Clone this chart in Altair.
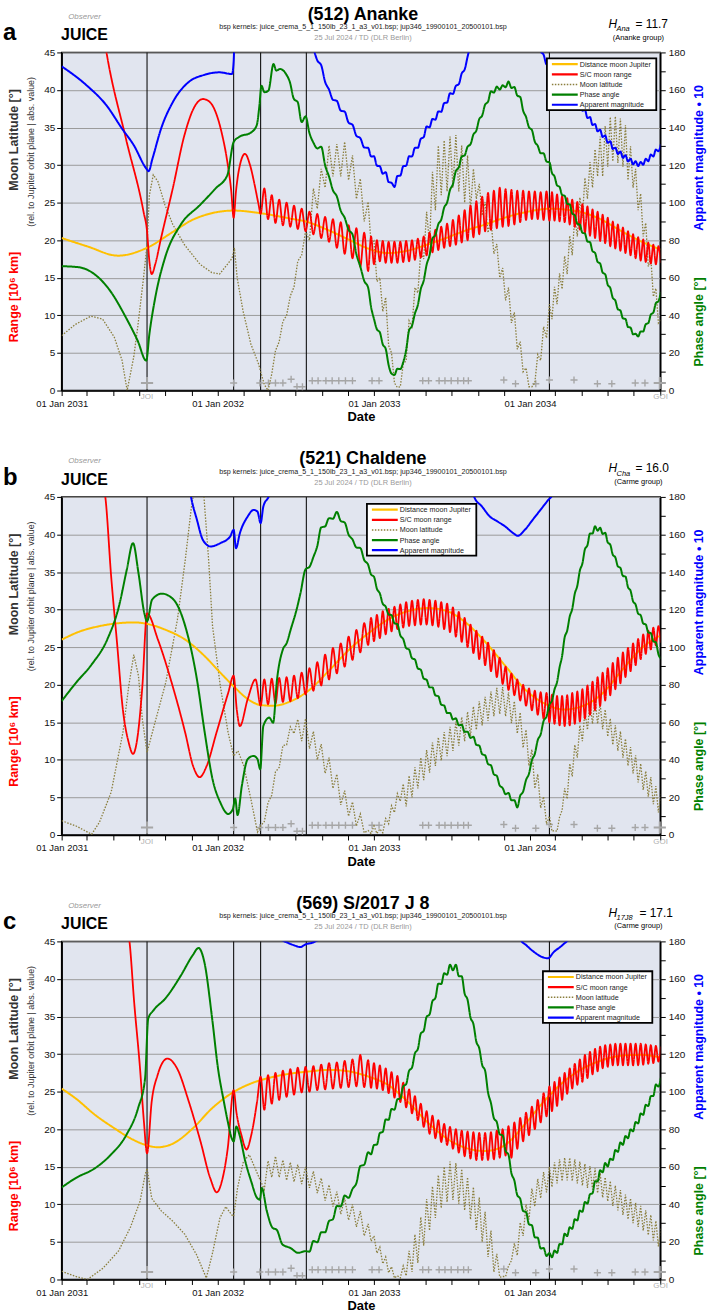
import altair as alt
import pandas as pd

SERIES = ["Distance moon Jupiter", "S/C moon range", "Moon latitude", "Phase angle", "Apparent magnitude"]
COLORS = ["#FFC000", "#FF0000", "#8A7E3C", "#008000", "#0000FF"]
DASHES = [[1, 0], [1, 0], [1.5, 1.5], [1, 0], [1, 0]]

EVENTS = [2031.5475, 2032.1025, 2032.275, 2032.5675, 2034.125]
JOI = 2031.5475
GOI = 2034.8375

FLYBYS = [[2032.1025, 1.0], [2032.27, 1.0], [2032.325, 1.0], [2032.37, 1.0], [2032.4175, 1.0],
          [2032.47, 1.5], [2032.5075, 0.5], [2032.5425, 0.5], [2032.605, 1.3], [2032.6425, 1.3],
          [2032.6925, 1.3], [2032.7325, 1.3], [2032.775, 1.3], [2032.8175, 1.3], [2032.8625, 1.3],
          [2032.9875, 1.3], [2033.0325, 1.3], [2033.3125, 1.3], [2033.35, 1.3], [2033.4175, 1.3],
          [2033.455, 1.3], [2033.495, 1.3], [2033.5375, 1.3], [2033.575, 1.3], [2033.605, 1.3],
          [2033.8325, 1.4], [2033.9075, 0.9], [2034.0375, 0.9], [2034.125, 1.4], [2034.2825, 1.4],
          [2034.4325, 0.9], [2034.525, 0.9], [2034.675, 1.0], [2034.7375, 1.0]]
BIG_FLYBYS = [[2031.5475, 1.0], [2034.8325, 1.0]]

# orbit epochs of the spacecraft (shared by all panels)
EPOCHS = [2032.275, 2032.3225, 2032.37, 2032.4175, 2032.465, 2032.5125, 2032.5625,
          2032.6125, 2032.6625, 2032.7125, 2032.7625, 2032.8125, 2032.8625, 2032.9125, 2032.9625,
          2033.0, 2033.0375, 2033.075, 2033.1125, 2033.15, 2033.1875, 2033.225, 2033.2625, 2033.3, 2033.3375,
          2033.375, 2033.4125, 2033.45, 2033.4875, 2033.525, 2033.5625, 2033.6, 2033.6375, 2033.675, 2033.7125,
          2033.75, 2033.7875, 2033.825, 2033.8625, 2033.9, 2033.9375, 2033.975, 2034.0125, 2034.05, 2034.0875, 2034.125,
          2034.1575, 2034.19, 2034.2225, 2034.255, 2034.2875, 2034.32, 2034.3525, 2034.385, 2034.4175, 2034.45,
          2034.4825, 2034.515, 2034.5475, 2034.58, 2034.6125, 2034.645, 2034.6775, 2034.71, 2034.7425, 2034.775,
          2034.8075, 2034.84]

# ---------------- panel a : (512) Ananke ----------------
A_YEL = [[2031.0, 20.3], [2031.1625, 19.2], [2031.3625, 17.95], [2031.5475, 19.0], [2031.7125, 21.1],
         [2031.8375, 22.7], [2031.9625, 23.6], [2032.1025, 23.95], [2032.275, 23.6], [2032.4625, 22.9],
         [2032.5625, 22.5], [2032.7125, 21.3], [2032.8625, 19.85], [2032.9625, 18.9], [2033.0875, 18.3],
         [2033.2125, 18.6], [2033.3375, 19.4], [2033.4625, 20.3], [2033.5875, 21.3], [2033.7125, 22.1],
         [2033.8375, 23.0], [2033.9625, 23.7], [2034.1375, 24.2], [2034.2625, 24.0], [2034.3375, 23.7],
         [2034.4625, 22.7], [2034.5875, 21.2], [2034.7125, 19.85], [2034.8375, 18.75]]
A_RED_PRE = [[2031.2575, 48.9], [2031.2875, 45.0], [2031.4125, 33.5], [2031.525, 23.8], [2031.5475, 21.2],
             [2031.5625, 17.2], [2031.5775, 15.5], [2031.6, 16.8], [2031.6375, 20.3], [2031.7125, 26.9],
             [2031.7875, 34.0], [2031.85, 37.7], [2031.9075, 38.8], [2031.95, 38.4], [2031.9875, 37.05],
             [2032.025, 34.4], [2032.0625, 30.4], [2032.0875, 26.5], [2032.1025, 23.0], [2032.1175, 26.5],
             [2032.1425, 30.0], [2032.175, 31.5], [2032.2075, 30.0], [2032.2375, 27.3], [2032.2625, 24.7]]
A_RED_EP = [23.5, 22.8, 22.3, 22.0, 21.8, 21.5, 21.2,
            20.8, 20.3, 19.8, 19.0, 18.2, 17.6, 16.5, 15.9,
            16.8, 17.2, 17.0, 17.0, 17.0, 17.1, 17.2, 17.4, 17.7, 18.0,
            18.4, 18.7, 19.0, 19.2, 19.4, 19.7, 20.0, 20.4, 20.8, 21.2, 21.4, 21.6, 21.8, 21.9, 22.1,
            22.4, 22.7, 22.8, 22.8, 22.7, 22.6,
            22.6, 22.5, 22.4, 22.1, 21.8, 21.4, 21.0, 20.6, 20.3, 19.9, 19.6, 19.2, 18.9, 18.6, 18.3,
            18.0, 17.6, 17.3, 17.1, 16.9, 16.8, 17.0]
A_RED_MID = [26.9, 26.0, 25.4, 25.0, 24.6, 24.2,
             23.8, 23.5, 23.1, 22.8, 22.4, 22.0, 21.6, 21.0,
             20.5, 20.0, 19.9, 19.8, 19.8, 19.8, 19.9, 20.0, 20.2, 20.5,
             21.0, 21.4, 21.8, 22.2, 22.7, 23.3, 24.0, 24.6, 25.2, 25.8, 26.3, 26.6, 27.0, 26.8, 26.7,
             26.6, 26.6, 26.5, 26.5, 26.4, 26.5,
             26.4, 26.1, 25.9, 25.6, 25.4, 25.1, 24.8, 24.5, 24.1, 23.8, 23.4, 23.0, 22.5, 22.1, 21.7,
             21.2, 20.8, 20.4, 20.1, 19.7, 19.4, 19.2]
A_GRN_PRE = [[2031.0, 66.2], [2031.1125, 65.6], [2031.2125, 61.8], [2031.3125, 52.9], [2031.4125, 38.8],
             [2031.4875, 26.5], [2031.5425, 15.9], [2031.5625, 30.0], [2031.6, 49.4], [2031.6625, 70.6],
             [2031.7625, 88.2], [2031.8875, 98.8], [2031.9875, 107.6], [2032.0625, 114.7], [2032.1025, 132.3],
             [2032.1375, 135.0], [2032.2125, 137.3], [2032.25, 141.2], [2032.2675, 151.8], [2032.28, 162.3],
             [2032.3, 158.8], [2032.325, 159.7], [2032.3575, 173.8], [2032.375, 170.3], [2032.4, 171.2],
             [2032.4375, 168.5], [2032.4625, 164.1], [2032.4875, 155.3], [2032.5125, 153.5], [2032.5375, 142.9]]
A_GRN_EP = [146.0, 132.0, 129.8, 113.9, 103.3, 92.0, 83.1, 66.0, 54.8, 38.1,
            31.0, 22.2, 9.0, 11.6, 15.1, 32.0, 41.0, 54.0, 67.0, 81.0,
            88.6, 97.4, 106.8, 116.9, 124.6, 129.8, 136.3, 144.5, 152.2, 159.3,
            161.8, 162.5, 164.5, 161.6, 156.3, 145.7, 138.7, 130.3, 126.3, 121.5,
            114.0, 108.4, 103.7, 99.1, 93.3, 88.3, 83.6, 79.0, 73.3, 67.6,
            61.9, 54.6, 47.9, 42.6, 38.1, 33.5, 30.2, 31.4, 35.3, 40.4,
            46.5, 52.5]
A_GRN_MID = [137.0, 128.9, 119.9, 106.6, 95.7, 85.6, 72.6, 58.4, 44.5, 32.6,
             24.6, 13.6, 8.3, 11.4, 21.6, 34.5, 45.5, 58.5, 72.0, 82.8,
             91.0, 100.1, 109.9, 118.8, 125.2, 131.1, 138.4, 146.4, 153.8, 158.6,
             160.2, 161.5, 161.1, 157.0, 149.0, 140.2, 132.5, 126.3, 121.9, 115.8,
             109.2, 104.1, 99.4, 94.2, 88.8, 84.0, 79.3, 74.2, 68.5, 62.8,
             56.3, 49.3, 43.3, 38.4, 33.8, 29.9, 28.8, 31.4, 35.9, 41.5,
             47.5]
A_BLU_PRE = [[2031.0, 172.6], [2031.1625, 162.3], [2031.2875, 151.8], [2031.3875, 139.4], [2031.4625, 130.6],
             [2031.5425, 118.2], [2031.5575, 116.8], [2031.5825, 123.5], [2031.6375, 139.4], [2031.7125, 153.5],
             [2031.8125, 164.1], [2031.9125, 168.0], [2032.0125, 169.4], [2032.0925, 168.5], [2032.1025, 175.0],
             [2032.1125, 200.0], [2032.3625, 240.0], [2032.6, 190.0]]
A_BLU_EP = [183.2, 173.2, 160.2, 154.2, 148.5, 141.5, 134.4, 129.2, 124.7, 119.4,
            116.2, 110.6, 114.2, 119.4, 124.7, 129.2, 134.0, 140.6, 144.6, 148.6,
            153.0, 158.3, 162.2, 168.8, 177.7, 196.2, 221.2, 236.2, 241.2, 241.2,
            241.2, 236.2, 226.2, 216.2, 206.2, 196.2, 187.2, 178.8, 173.2, 169.9,
            166.9, 163.7, 160.7, 157.8, 153.3, 149.4, 145.6, 141.9, 138.9, 135.8,
            132.7, 129.3, 127.2, 125.3, 123.4, 122.1, 121.7, 123.4, 125.6, 128.3,
            131.2]
A_BLU_MID = [175.8, 164.3, 154.8, 149.0, 142.6, 135.6, 129.4, 124.6, 119.7, 115.4,
             111.0, 108.4, 114.4, 119.7, 124.6, 129.2, 134.9, 140.2, 144.2, 148.4,
             153.3, 157.9, 163.1, 170.9, 184.6, 207.0, 227.0, 237.0, 240.0, 240.0,
             237.0, 230.0, 220.0, 210.0, 200.0, 190.0, 180.6, 173.6, 169.2, 166.0,
             162.9, 159.8, 156.9, 153.2, 149.0, 145.1, 141.4, 138.0, 135.0, 131.9,
             128.6, 125.9, 123.9, 122.0, 120.4, 119.5, 120.2, 122.1, 124.6, 127.4]
A_LAT_PRE = [[2031.0, 7.3], [2031.0875, 8.8], [2031.1875, 9.9], [2031.2625, 9.5], [2031.3375, 7.1],
             [2031.3875, 4.0], [2031.42, 0.0], [2031.4625, 4.5], [2031.4875, 8.4], [2031.525, 15.0],
             [2031.5475, 19.4], [2031.5625, 26.0], [2031.5875, 28.7], [2031.6175, 27.8], [2031.6625, 24.7],
             [2031.7125, 22.1], [2031.7875, 19.4], [2031.8875, 16.8], [2031.9625, 15.7], [2032.0125, 15.5],
             [2032.0625, 16.8], [2032.0925, 17.6], [2032.1075, 19.0], [2032.125, 15.0], [2032.1625, 10.6],
             [2032.2125, 6.2], [2032.2625, 3.5]]
A_LAT_EP = [2.5, 0.0, 5.3, 9.2, 12.6, 17.2, 21.2, 26.9, 29.5, 32.6,
            32.8, 33.1, 31.3, 28.2, 25.1, 19.9, 15.0, 12.4, 5.0, 0.4,
            3.5, 9.3, 13.7, 18.5, 23.8, 29.1, 32.6, 33.3, 33.8, 34.0,
            32.6, 31.3, 29.5, 27.5, 25.1, 22.8, 19.5, 16.3, 13.7, 10.4,
            6.5, 3.0, 0.5, 4.8, 8.5, 11.5, 13.8, 15.6, 17.9, 20.6,
            23.2, 25.7, 28.3, 30.4, 32.1, 33.8, 35.2, 36.4, 36.5, 36.2,
            35.3, 32.5, 29.5, 26.2, 22.3, 17.7, 13.6, 9.5]
A_LAT_MID = [0.8, 2.2, 6.5, 10.0, 13.8, 18.0, 20.0, 24.2, 27.0, 28.5,
             28.5, 28.0, 25.5, 22.5, 19.5, 14.5, 10.5, 6.0, 1.0, 0.5,
             4.0, 8.5, 13.0, 17.5, 19.5, 24.0, 26.0, 26.5, 27.0, 26.5,
             25.0, 24.0, 25.5, 23.3, 21.0, 18.2, 15.0, 12.0, 9.0, 5.5,
             2.5, 0.5, 1.0, 4.0, 7.0, 9.5, 11.5, 13.5, 15.5, 18.0,
             20.5, 23.0, 25.5, 27.0, 28.5, 28.5, 29.8, 30.5, 30.3, 29.8,
             28.0, 27.0, 24.0, 20.5, 16.5, 12.5, 9.0]

# ---------------- panel b : (521) Chaldene ----------------
B_YEL = [[2031.0, 26.0], [2031.1175, 27.1], [2031.2425, 27.8], [2031.3675, 28.2], [2031.4675, 28.3],
         [2031.5475, 28.1], [2031.6675, 27.3], [2031.7925, 26.0], [2031.9175, 23.8], [2032.0175, 21.6],
         [2032.1025, 19.8], [2032.1925, 18.1], [2032.275, 17.3], [2032.355, 17.2], [2032.4675, 17.8],
         [2032.5925, 19.4], [2032.7175, 22.0], [2032.8425, 24.7], [2032.9675, 26.9], [2033.0925, 28.7],
         [2033.2175, 29.8], [2033.3425, 30.2], [2033.4675, 29.8], [2033.5925, 28.2], [2033.7175, 25.6],
         [2033.8425, 22.5], [2033.9675, 19.4], [2034.125, 17.2], [2034.2175, 16.7], [2034.3425, 17.2],
         [2034.4675, 18.9], [2034.5925, 22.0], [2034.7175, 24.9], [2034.83, 26.5]]
B_RED_PRE = [[2031.255, 47.3], [2031.28, 45.0], [2031.3175, 34.4], [2031.355, 25.6], [2031.3925, 16.7],
             [2031.43, 12.3], [2031.4575, 10.8], [2031.4875, 13.2], [2031.5175, 19.8], [2031.5475, 29.5],
             [2031.6175, 26.0], [2031.7175, 19.4], [2031.7925, 13.6], [2031.8425, 9.2], [2031.885, 7.7],
             [2031.93, 9.2], [2031.9925, 13.6], [2032.0675, 18.9], [2032.1025, 21.2], [2032.1225, 16.7],
             [2032.1425, 14.5], [2032.1925, 18.1], [2032.2425, 20.7]]
B_RED_EP = [17.2, 17.4, 17.5, 17.7, 17.8, 18.2, 18.7,
            19.2, 19.9, 20.7, 21.5, 22.4, 23.3, 24.3, 25.3,
            25.8, 26.2, 26.7, 27.1, 27.4, 27.6, 27.8, 27.9, 28.0, 28.0,
            27.9, 27.7, 27.4, 27.0, 26.4, 25.7, 25.0, 24.2, 23.4, 22.6, 21.8, 21.0, 20.1, 19.3, 18.6,
            17.9, 17.2, 16.6, 16.0, 15.5, 15.0,
            14.8, 14.6, 14.5, 14.6, 14.8, 15.1, 15.5, 16.0, 16.6, 17.2, 17.9, 18.6, 19.4, 20.2, 21.0,
            21.8, 22.6, 23.4, 24.1, 24.7, 25.2, 25.6]
B_RED_MID = [20.7, 20.8, 20.9, 21.0, 21.2, 21.6,
             22.2, 23.0, 24.0, 24.9, 25.5, 26.4, 27.3, 28.2,
             28.9, 29.3, 29.8, 30.1, 30.4, 30.7, 31.0, 31.2, 31.3, 31.4,
             31.3, 31.2, 31.0, 30.8, 30.3, 29.7, 28.9, 28.0, 27.2, 26.4, 25.6, 24.6, 23.6, 22.4, 21.5,
             20.7, 20.0, 19.5, 19.2, 19.0, 18.9,
             18.7, 18.5, 18.5, 18.6, 18.9, 19.1, 19.4, 19.9, 20.4, 21.0, 21.6, 22.2, 22.9, 23.6, 24.3,
             24.9, 25.5, 26.1, 26.7, 27.2, 27.6, 27.8]
B_GRN_PRE = [[2031.0, 71.3], [2031.0925, 81.1], [2031.1925, 90.8], [2031.2925, 104.1], [2031.3675, 121.8],
             [2031.4175, 141.2], [2031.4575, 155.4], [2031.4925, 139.5], [2031.53, 118.2], [2031.5475, 113.8],
             [2031.58, 125.3], [2031.6425, 128.5], [2031.7175, 125.3], [2031.7925, 111.2], [2031.8675, 82.8],
             [2031.9175, 54.5], [2031.9675, 29.7], [2032.0175, 17.3], [2032.0675, 11.2], [2032.0975, 13.8],
             [2032.1125, 19.5], [2032.1275, 10.6], [2032.155, 26.2], [2032.1925, 40.4], [2032.23, 42.1],
             [2032.255, 40.4], [2032.2725, 35.0], [2032.2925, 58.1], [2032.33, 62.5], [2032.355, 59.8],
             [2032.38, 82.8], [2032.4175, 98.8], [2032.4425, 102.3], [2032.4675, 109.4], [2032.505, 120.0],
             [2032.53, 128.8]]
B_GRN_EP = [141.5, 148.0, 163.8, 168.7, 172.0, 166.4, 157.4, 152.8, 143.9, 137.5,
            128.6, 121.6, 117.1, 112.3, 104.3, 98.7, 93.4, 88.0, 82.6, 78.6,
            73.9, 68.9, 64.9, 62.1, 58.7, 55.0, 52.3, 47.6, 42.4, 37.1,
            31.5, 25.0, 22.4, 18.5, 20.9, 29.3, 39.9, 50.5, 60.7, 69.5,
            77.5, 89.3, 105.2, 116.3, 128.5, 140.8, 152.1, 160.5, 164.4, 163.6,
            160.9, 154.6, 147.8, 142.2, 137.6, 130.1, 122.7, 117.0, 112.1, 107.5,
            102.6, 94.0]
B_GRN_MID = [142.8, 153.9, 164.3, 168.4, 167.2, 159.9, 153.1, 146.4, 138.7, 131.1,
             123.1, 117.4, 112.7, 106.3, 99.5, 94.1, 88.7, 83.3, 78.6, 74.3,
             69.4, 64.9, 61.5, 58.4, 54.9, 51.7, 48.0, 43.0, 37.8, 32.3,
             26.3, 21.7, 18.5, 14.7, 23.1, 32.6, 43.2, 53.6, 63.1, 71.5,
             81.4, 95.3, 108.8, 120.4, 132.7, 144.5, 154.3, 160.5, 162.0, 160.3,
             155.8, 149.2, 143.0, 137.9, 131.9, 124.4, 117.9, 112.6, 107.8, 103.1,
             96.3]
B_BLU = [[2031.0, 250.0], [2031.8175, 185.5], [2031.83, 179.8], [2031.8675, 167.8], [2031.905, 157.2],
         [2031.955, 153.6], [2032.0175, 155.4], [2032.08, 158.9], [2032.1025, 162.5], [2032.1175, 152.7],
         [2032.1425, 160.7], [2032.1925, 169.6], [2032.23, 173.1], [2032.255, 172.2], [2032.275, 166.0],
         [2032.2925, 174.9], [2032.33, 181.0], [2032.355, 190.0], [2032.9675, 240.0], [2033.63, 190.0],
         [2033.6425, 180.0], [2033.6925, 174.9], [2033.7425, 169.6], [2033.7925, 166.9], [2033.8425, 164.2],
         [2033.8925, 160.7], [2033.9225, 159.3], [2033.9675, 162.5], [2034.0175, 167.8], [2034.0675, 173.1],
         [2034.1175, 178.4], [2034.1425, 181.0], [2034.1675, 190.0], [2034.83, 250.0]]
B_LAT_PRE = [[2031.0, 1.9], [2031.0925, 1.2], [2031.1925, 0.1], [2031.2425, 1.7], [2031.3175, 5.7],
             [2031.3925, 13.6], [2031.43, 19.8], [2031.4625, 24.0], [2031.4925, 21.2], [2031.5175, 15.4],
             [2031.5475, 11.0], [2031.5925, 14.5], [2031.6675, 20.3], [2031.7425, 28.7], [2031.7925, 36.6],
             [2031.83, 43.3], [2031.8725, 49.0], [2031.9125, 45.0], [2031.9425, 36.6], [2031.9675, 27.8],
             [2032.0175, 19.8], [2032.0675, 13.6], [2032.1025, 10.5], [2032.13, 11.2], [2032.1675, 9.2],
             [2032.2175, 4.3], [2032.255, 0.4]]
B_LAT_EP = [1.2, 4.3, 8.4, 11.9, 14.4, 15.4, 15.5, 13.8, 12.1, 10.3,
            8.1, 5.9, 4.4, 2.8, 0.6, 1.2, 0.8, 2.2, 3.9, 5.5,
            6.8, 7.9, 9.0, 10.3, 11.3, 12.3, 13.0, 13.7, 14.4, 15.1,
            15.7, 16.4, 17.1, 17.8, 18.4, 19.1, 19.6, 19.7, 19.0, 17.8,
            16.3, 14.0, 11.4, 8.1, 5.1, 2.5, 0.6, 2.4, 6.2, 9.5,
            12.0, 14.6, 16.5, 17.6, 18.1, 17.5, 16.7, 15.5, 14.6, 13.8,
            12.8, 11.7, 10.6, 9.5, 8.5, 7.7, 6.5, 5.4]
B_LAT_MID = [1.8, 5.3, 9.0, 12.0, 13.5, 12.5, 11.5, 10.0, 8.2, 6.2,
             4.0, 2.5, 1.2, 0.3, 0.2, 0.2, 0.3, 1.5, 3.0, 4.5,
             3.8, 5.0, 6.2, 7.3, 8.3, 9.2, 9.9, 10.5, 11.2, 11.9,
             12.5, 13.2, 14.0, 14.6, 15.2, 15.8, 16.1, 15.8, 14.9, 13.5,
             11.6, 9.2, 6.2, 3.6, 1.5, 0.5, 0.5, 3.3, 4.8, 7.8,
             10.3, 12.5, 14.0, 14.8, 14.8, 14.1, 13.1, 12.0, 11.2, 10.3,
             9.2, 8.2, 7.0, 6.0, 5.1, 4.1, 3.0]

# ---------------- panel c : (569) S/2017 J 8 ----------------
C_YEL = [[2031.0, 25.4], [2031.09, 24.1], [2031.215, 21.9], [2031.34, 20.1], [2031.44, 18.8],
         [2031.54, 17.9], [2031.615, 17.6], [2031.715, 18.1], [2031.84, 20.1], [2031.965, 22.8],
         [2032.09, 24.8], [2032.215, 26.1], [2032.34, 26.9], [2032.465, 27.4], [2032.59, 27.7],
         [2032.715, 27.9], [2032.84, 27.7], [2032.965, 27.0], [2033.09, 25.9], [2033.215, 23.7],
         [2033.34, 21.0], [2033.465, 18.8], [2033.59, 17.5], [2033.715, 17.1], [2033.84, 17.9],
         [2033.965, 20.6], [2034.09, 23.7], [2034.215, 26.3], [2034.34, 28.1], [2034.465, 29.2],
         [2034.59, 29.8], [2034.715, 29.9], [2034.8275, 29.6]]
C_RED_PRE = [[2031.415, 47.6], [2031.435, 45.0], [2031.465, 36.9], [2031.5025, 28.1], [2031.5275, 21.0],
             [2031.5475, 16.8], [2031.5775, 23.7], [2031.615, 27.2], [2031.6775, 29.4], [2031.74, 28.1],
             [2031.815, 23.7], [2031.89, 18.4], [2031.9525, 13.5], [2031.995, 11.6], [2032.0275, 13.1],
             [2032.065, 17.5], [2032.1025, 25.2], [2032.12, 22.3], [2032.1525, 19.2], [2032.185, 17.3],
             [2032.215, 19.2], [2032.2525, 23.7]]
C_RED_EP = [27.0, 27.2, 27.5, 27.8, 28.0, 28.2, 28.3,
            28.4, 28.6, 28.8, 28.9, 29.1, 29.3, 29.9, 29.2,
            28.8, 28.5, 28.1, 27.6, 27.1, 26.2, 25.3, 24.4, 23.4, 22.4,
            21.8, 21.2, 20.7, 20.3, 20.0, 19.8, 19.7, 19.6, 19.5, 19.5, 19.6, 19.8, 20.0, 20.4, 20.9,
            21.5, 22.2, 23.0, 23.9, 24.8, 25.7,
            26.3, 26.9, 27.5, 28.1, 28.7, 29.3, 29.9, 30.3, 30.7, 31.0, 31.2, 31.3, 31.4, 31.4, 31.4,
            31.4, 31.4, 31.4, 31.3, 31.2, 31.1, 31.0]
C_RED_MID = [22.6, 23.4, 23.9, 24.3, 24.6, 24.9,
             25.0, 25.2, 25.3, 25.4, 25.5, 25.6, 25.7, 25.6,
             25.5, 25.4, 25.2, 24.8, 24.2, 23.6, 22.9, 22.1, 21.2, 20.3,
             19.4, 18.8, 18.3, 17.9, 17.4, 16.9, 16.4, 16.1, 15.9, 15.9, 15.9, 16.0, 16.2, 16.5, 16.2,
             17.4, 18.4, 19.2, 20.0, 20.9, 21.7,
             22.4, 23.1, 23.9, 24.7, 25.4, 25.9, 26.3, 26.8, 27.3, 27.7, 28.1, 28.3, 28.5, 28.5, 28.5,
             28.5, 28.5, 28.5, 28.6, 28.7, 28.8, 29.0]
C_GRN_PRE = [[2031.0, 49.0], [2031.09, 54.0], [2031.215, 59.3], [2031.315, 66.4], [2031.415, 77.0],
             [2031.49, 91.2], [2031.535, 107.1], [2031.555, 138.9], [2031.59, 143.4], [2031.665, 149.6],
             [2031.765, 161.9], [2031.84, 172.6], [2031.8775, 176.5], [2031.915, 169.0], [2031.965, 138.9],
             [2032.0025, 112.4], [2032.04, 94.7], [2032.065, 84.1], [2032.09, 75.2], [2032.1025, 73.5],
             [2032.12, 81.4], [2032.14, 77.0], [2032.1775, 62.8], [2032.215, 52.2], [2032.2525, 43.4],
             [2032.27, 42.5], [2032.2825, 48.7], [2032.315, 36.3], [2032.3525, 27.4], [2032.3775, 26.5],
             [2032.415, 18.6], [2032.465, 16.8], [2032.515, 14.2]]
C_GRN_EP = [15.1, 20.5, 25.1, 31.1, 39.1, 44.7, 48.2, 60.4, 67.7, 71.6,
            78.0, 85.2, 90.8, 95.9, 102.8, 111.1, 120.4, 130.9, 139.9, 148.2,
            157.5, 163.0, 167.6, 167.6, 161.4, 148.9, 136.0, 123.1, 111.2, 93.9,
            83.8, 76.7, 66.4, 52.7, 43.0, 35.9, 28.8, 22.2, 16.8, 14.1,
            15.4, 18.9, 24.4, 27.8, 32.1, 36.7, 41.3, 45.4, 52.3, 58.1,
            62.0, 64.3, 68.9, 73.0, 76.4, 79.9, 83.8, 88.4, 93.0, 97.6,
            103.8, 107.5]
C_GRN_MID = [14.8, 19.8, 25.1, 32.1, 38.9, 43.5, 51.3, 61.1, 66.7, 71.8,
             78.6, 85.0, 90.4, 96.4, 104.0, 112.8, 122.7, 132.4, 141.1, 149.9,
             157.3, 162.3, 164.6, 161.5, 152.2, 139.5, 126.6, 114.2, 99.6, 85.9,
             77.3, 68.6, 56.6, 44.9, 36.5, 29.4, 22.5, 16.5, 12.5, 11.8,
             14.2, 18.7, 23.1, 27.0, 31.4, 36.0, 40.4, 45.9, 52.2, 57.1,
             60.2, 63.6, 68.0, 71.7, 75.2, 78.9, 83.1, 87.7, 92.3, 97.7,
             102.7]
C_BLU = [[2031.0, 260.0], [2032.365, 200.0], [2032.4025, 181.4], [2032.44, 179.6], [2032.49, 177.9],
         [2032.5275, 177.0], [2032.565, 178.5], [2032.615, 179.6], [2032.6525, 182.0], [2032.69, 200.0],
         [2033.215, 260.0], [2033.915, 200.0], [2033.94, 181.0], [2033.9775, 177.9], [2034.0275, 174.3],
         [2034.0775, 171.7], [2034.115, 171.0], [2034.1525, 174.3], [2034.215, 178.5], [2034.2525, 182.0],
         [2034.29, 200.0], [2034.8275, 260.0]]
C_LAT_PRE = [[2031.0, 1.1], [2031.09, 0.4], [2031.165, 0.0], [2031.265, 1.5], [2031.365, 3.8],
             [2031.44, 6.9], [2031.5025, 10.4], [2031.535, 13.9], [2031.5475, 14.8], [2031.5775, 10.8],
             [2031.64, 9.1], [2031.715, 7.7], [2031.79, 6.0], [2031.865, 3.3], [2031.9275, 0.2],
             [2031.965, 3.3], [2032.015, 8.2], [2032.0525, 9.7], [2032.09, 8.6], [2032.1025, 8.4],
             [2032.1275, 12.2], [2032.165, 15.7], [2032.2025, 16.6], [2032.24, 14.8]]
C_LAT_EP = [13.1, 15.8, 16.4, 15.9, 15.6, 15.3, 15.0, 14.4, 13.5, 12.6,
            11.7, 10.8, 10.0, 9.1, 7.4, 5.8, 4.3, 3.0, 1.7, 0.5,
            1.8, 3.8, 6.0, 8.3, 10.7, 12.4, 13.9, 15.0, 15.7, 15.5,
            14.7, 13.6, 12.3, 10.9, 9.0, 6.5, 3.4, 0.4, 1.8, 4.8,
            7.6, 10.0, 12.1, 13.4, 14.3, 15.0, 15.6, 16.0, 16.2, 16.2,
            16.0, 15.7, 15.4, 15.1, 14.8, 14.2, 13.6, 13.1, 12.5, 11.9,
            11.3, 10.8, 10.2, 9.8, 9.2, 8.6, 7.8, 7.0]
C_LAT_MID = [12.0, 13.6, 13.6, 13.2, 13.0, 12.7, 12.2, 11.5, 10.5, 9.7,
             8.7, 7.9, 7.0, 5.8, 5.1, 3.5, 2.1, 0.9, 0.2, 0.2,
             0.5, 1.0, 2.2, 4.5, 6.5, 8.2, 9.5, 10.3, 10.6, 10.1,
             9.2, 8.0, 6.6, 5.0, 3.0, 1.0, 0.3, 0.4, 2.5, 3.2,
             5.8, 8.0, 9.7, 10.8, 11.6, 12.3, 12.8, 13.1, 13.2, 13.1,
             12.8, 12.5, 12.2, 12.0, 11.5, 10.9, 10.4, 9.8, 9.2, 8.6,
             8.0, 7.5, 7.0, 6.5, 5.9, 5.2, 4.4]

GRN_START = 6   # phase-angle wiggles are listed from this orbit epoch on
BLU_START = 7

PANELS = [
    dict(letter="a", title="(512) Ananke", hsub="Ana", hval="= 11.7", group="(Ananke group)",
         yel=A_YEL, red=(A_RED_PRE, A_RED_EP, A_RED_MID), grn=(A_GRN_PRE, A_GRN_EP, A_GRN_MID, GRN_START),
         blu=(A_BLU_PRE, A_BLU_EP, A_BLU_MID, BLU_START), lat=(A_LAT_PRE, A_LAT_EP, A_LAT_MID), legend=(488, 6)),
    dict(letter="b", title="(521) Chaldene", hsub="Cha", hval="= 16.0", group="(Carme group)",
         yel=B_YEL, red=(B_RED_PRE, B_RED_EP, B_RED_MID), grn=(B_GRN_PRE, B_GRN_EP, B_GRN_MID, GRN_START),
         blu=B_BLU, lat=(B_LAT_PRE, B_LAT_EP, B_LAT_MID), legend=(307, 7)),
    dict(letter="c", title="(569) S/2017 J 8", hsub="17J8", hval="= 17.1", group="(Carme group)",
         yel=C_YEL, red=(C_RED_PRE, C_RED_EP, C_RED_MID), grn=(C_GRN_PRE, C_GRN_EP, C_GRN_MID, GRN_START),
         blu=C_BLU, lat=(C_LAT_PRE, C_LAT_EP, C_LAT_MID), legend=(484, 30)),
]

W, H = 602, 340
FONT = "Liberation Sans"


def to_ts(y):
    yi = int(y)
    a = pd.Timestamp(year=yi, month=1, day=1)
    b = pd.Timestamp(year=yi + 1, month=1, day=1)
    return a + (b - a) * (y - yi)


def frame(pairs, name):
    return pd.DataFrame({"t": [to_ts(p[0]) for p in pairs], "v": [p[1] for p in pairs], "series": name})


def osc_pairs(pre, ep, mid, start=0):
    """points before the tour, then one value at every orbit epoch and one between consecutive epochs"""
    times = EPOCHS[start:]
    n = min(len(times), len(ep))
    pts = list(pre)
    for i in range(n):
        pts.append([times[i], ep[i]])
        if i < len(mid) and i + 1 < n:
            pts.append([(times[i] + times[i + 1]) / 2, mid[i]])
    return pts


def series_pairs(spec):
    return osc_pairs(*spec) if isinstance(spec, tuple) else spec


tick_dates = []
for yy in range(2031, 2035):
    for mm in (1, 3, 5, 7, 9, 11):
        tick_dates.append(alt.DateTime(year=yy, month=mm, date=1))

x_scale = alt.Scale(domain=[alt.DateTime(year=2031, month=1, date=1), alt.DateTime(year=2034, month=11, date=2)])
x_enc = alt.X("t:T", scale=x_scale, axis=alt.Axis(
    values=tick_dates, labelExpr="month(datum.value) == 0 ? timeFormat(datum.value, '%d %b %Y') : ''",
    title="Date", titleFontSize=13, titleFontWeight="bold", titlePadding=3, labelFontSize=9.5,
    labelColor="#111", tickSize=5, tickColor="#000", domainColor="#000", domainWidth=1.5,
    grid=False, labelPadding=3, labelFlush=False))

y_left = alt.Y("v:Q", scale=alt.Scale(domain=[0, 45], nice=False, zero=False), axis=alt.Axis(
    values=list(range(0, 46, 5)), title=None, grid=True, gridColor="#9a9a9a", gridWidth=1,
    tickSize=5, tickColor="#000", domainColor="#000", domainWidth=1.5, labelFontSize=10,
    labelColor="#111", labelPadding=2))
y_right = alt.Y("v:Q", scale=alt.Scale(domain=[0, 180], nice=False, zero=False), axis=alt.Axis(
    orient="right", values=list(range(0, 181, 10)), labelExpr="datum.value % 20 == 0 ? datum.value : ''",
    title=None, grid=False, tickSize=5, tickColor="#000", domainColor="#000", domainWidth=1.5,
    labelFontSize=10, labelColor="#111", labelPadding=3))

DUMMY = pd.DataFrame({"d": [0]})


def txt(text, x, y, size, color="#000", weight="normal", style="normal", align="center", angle=0, baseline=None):
    if baseline is None:
        baseline = "alphabetic" if angle == 0 else "middle"
    return alt.Chart(DUMMY).mark_text(text=text, fontSize=size, color=color, fontWeight=weight,
                                      fontStyle=style, align=align, angle=angle, baseline=baseline,
                                      font=FONT).encode(x=alt.value(x), y=alt.value(y))


def legend_layers(bx, by):
    out = [alt.Chart(DUMMY).mark_rect(fill="white", stroke="black", strokeWidth=1.8).encode(
        x=alt.value(bx), x2=alt.value(bx + 110), y=alt.value(by), y2=alt.value(by + 52))]
    for i in range(len(SERIES)):
        yy = by + 5.8 + 10.2 * i
        out.append(alt.Chart(DUMMY).mark_rule(color=COLORS[i], strokeWidth=1.4 if i == 2 else 2.2,
                                              strokeDash=DASHES[i]).encode(
            x=alt.value(bx + 5), x2=alt.value(bx + 31), y=alt.value(yy)))
        out.append(txt(SERIES[i], bx + 33, yy + 0.5, 7.2, color="#222", align="left", baseline="middle"))
    return out


def build(p):
    color = alt.Color("series:N", scale=alt.Scale(domain=SERIES, range=COLORS), legend=None)
    dash = alt.StrokeDash("series:N", scale=alt.Scale(domain=SERIES, range=DASHES), legend=None)

    ev = alt.Chart(pd.DataFrame({"t": [to_ts(e) for e in EVENTS]})).mark_rule(
        color="#111", strokeWidth=1.1).encode(x=x_enc)
    fly = alt.Chart(frame(FLYBYS, "fb")).mark_point(
        shape="M-1,0L1,0M0,-1L0,1", filled=False, color="#a6a6a6", strokeWidth=1.4, size=50, opacity=1).encode(
        x=x_enc, y=y_left)
    flyb = alt.Chart(frame(BIG_FLYBYS, "fb")).mark_point(
        shape="M-1,0L1,0M0,-1L0,1", filled=False, color="#a6a6a6", strokeWidth=2, size=150, opacity=1).encode(
        x=x_enc, y=y_left)
    lab = alt.Chart(pd.DataFrame({"t": [to_ts(JOI), to_ts(GOI)], "s": ["JOI", "GOI"]})).mark_text(
        fontSize=8, color="#b0b0b0", baseline="top", font=FONT).encode(x=x_enc, y=alt.value(H + 3), text="s:N")

    def line(pairs, idx, width, y_enc, interp="monotone"):
        return alt.Chart(frame(pairs, SERIES[idx])).mark_line(
            clip=True, strokeWidth=width, interpolate=interp).encode(
            x=x_enc, y=y_enc, color=color, strokeDash=dash)

    lat = line(series_pairs(p["lat"]), 2, 1.3, y_left, "linear")
    yel = line(p["yel"], 0, 2, y_left)
    red = line(series_pairs(p["red"]), 1, 1.8, y_left)
    grn = line(series_pairs(p["grn"]), 3, 2, y_right)
    blu = line(series_pairs(p["blu"]), 4, 2, y_right)

    left = alt.layer(ev, fly, flyb, lab, lat, yel, red)
    right = alt.layer(grn, blu)

    texts = [
        txt(p["letter"], -59, -12, 24, weight="bold", align="left"),
        txt("Observer", 23, -34, 8, color="#9a9a9a", style="italic"),
        txt("JUICE", 23, -12, 16, weight="bold"),
        txt(p["title"], 303, -33, 18, weight="bold"),
        txt("bsp kernels: juice_crema_5_1_150lb_23_1_a3_v01.bsp; jup346_19900101_20500101.bsp", 303, -23.5, 7.2, color="#222"),
        txt("25 Jul 2024 / TD (DLR Berlin)", 303, -12, 7.5, color="#9a9a9a"),
        txt("H", 550, -25, 12, style="italic", align="left"),
        txt(p["hsub"], 558, -21.5, 7.5, style="italic", align="left"),
        txt(p["hval"], 577 + (4 if len(p["hsub"]) > 3 else 0), -25, 12, align="left"),
        txt(p["group"], 580, -13, 7.5),
        txt("Moon Latitude [°]", -48, 88, 12.5, color="#333", weight="bold", angle=270),
        txt("(rel. to Jupiter orbit plane | abs. value)", -31, 100, 9, color="#333", angle=270),
        txt("Range [10⁶ km]", -48, 246, 12.5, color="#FF0000", weight="bold", angle=270),
        txt("Apparent magnitude • 10", 641, 106, 12.5, color="#0000FF", weight="bold", angle=270),
        txt("Phase angle [°]", 641, 271, 12.5, color="#008000", weight="bold", angle=270),
    ]
    leg = legend_layers(*p["legend"])
    return alt.layer(left, right, *texts, *leg).resolve_scale(y="independent").properties(width=W, height=H)


chart = alt.vconcat(*[build(p) for p in PANELS], spacing=24).resolve_scale(
    color="independent", strokeDash="independent", x="independent", y="independent"
).properties(padding={"left": 2, "top": 1, "right": 0, "bottom": 0}).configure(
    font=FONT
).configure_view(fill="#E1E5EF", stroke="#000", strokeWidth=1.5)

chart.save("out.html", embed_options={"renderer": "svg", "actions": False})
